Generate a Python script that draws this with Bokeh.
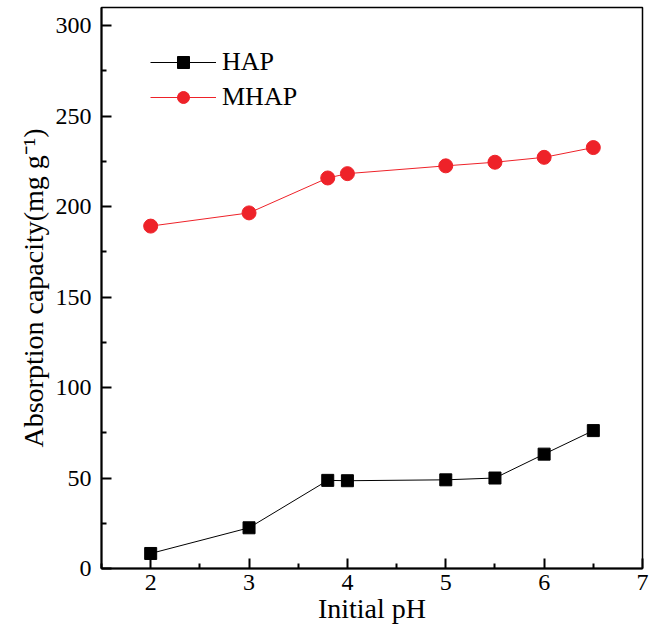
from bokeh.plotting import figure
from bokeh.models import Range1d, Legend, LegendItem, FixedTicker
from bokeh.embed import file_html
from bokeh.resources import INLINE

ph = [2, 3, 3.8, 4, 5, 5.5, 6, 6.5]
hap = [8.3, 22.5, 48.7, 48.5, 49.0, 50.0, 63.2, 76.2]
mhap = [189.2, 196.5, 215.8, 218.2, 222.5, 224.5, 227.2, 232.6]
x_ticks = [2, 3, 4, 5, 6, 7]
y_ticks = [0, 50, 100, 150, 200, 250, 300]

FONT = "Liberation Serif"
RED = "#EE2229"

p = figure(width=656, height=634, output_backend="svg", toolbar_location=None,
           x_range=Range1d(1.5, 7.0), y_range=Range1d(0, 310),
           min_border_left=101, min_border_right=14, min_border_top=7, min_border_bottom=66)

p.grid.visible = False
p.outline_line_color = "black"
p.outline_line_width = 1.5
p.background_fill_color = "white"
p.border_fill_color = "white"

for ax in (p.xaxis, p.yaxis):
    ax.axis_line_width = 2
    ax.axis_line_color = "black"
    ax.major_tick_in = 10
    ax.major_tick_out = 0
    ax.minor_tick_in = 5
    ax.minor_tick_out = 0
    ax.major_tick_line_width = 2
    ax.minor_tick_line_width = 2
    ax.major_label_text_font = FONT
    ax.major_label_text_font_size = "24px"
    ax.major_label_text_color = "black"
    ax.axis_label_text_font = FONT
    ax.axis_label_text_font_size = "28px"
    ax.axis_label_text_font_style = "normal"
    ax.axis_label_text_color = "black"

p.xaxis.ticker = FixedTicker(ticks=x_ticks, minor_ticks=[1.5, 2.5, 3.5, 4.5, 5.5, 6.5])
p.yaxis.ticker = FixedTicker(ticks=y_ticks, minor_ticks=[25, 75, 125, 175, 225, 275])
p.xaxis.axis_label = "Initial pH"
p.yaxis.axis_label = "Absorption capacity(mg g\u207b\u00b9)"
p.xaxis.major_label_standoff = 6
p.yaxis.major_label_standoff = 10
p.xaxis.axis_label_standoff = 0
p.yaxis.axis_label_standoff = 4

l1 = p.line(ph, hap, line_color="black", line_width=1)
s1 = p.scatter(ph, hap, marker="square", size=12, fill_color="black", line_color="black")
l2 = p.line(ph, mhap, line_color=RED, line_width=1)
s2 = p.scatter(ph, mhap, marker="circle", size=14, fill_color=RED, line_color=RED)

legend = Legend(items=[LegendItem(label="HAP", renderers=[l1, s1]),
                       LegendItem(label="MHAP", renderers=[l2, s2])],
                location=(49, 456))
legend.glyph_width = 66
legend.glyph_height = 30
legend.spacing = 5
legend.padding = 0
legend.margin = 0
legend.label_standoff = 6
legend.border_line_color = None
legend.background_fill_alpha = 0
legend.label_text_font = FONT
legend.label_text_font_size = "26px"
legend.label_text_color = "black"
p.add_layout(legend, "center")

open("out.html", "w").write(file_html(p, INLINE))
